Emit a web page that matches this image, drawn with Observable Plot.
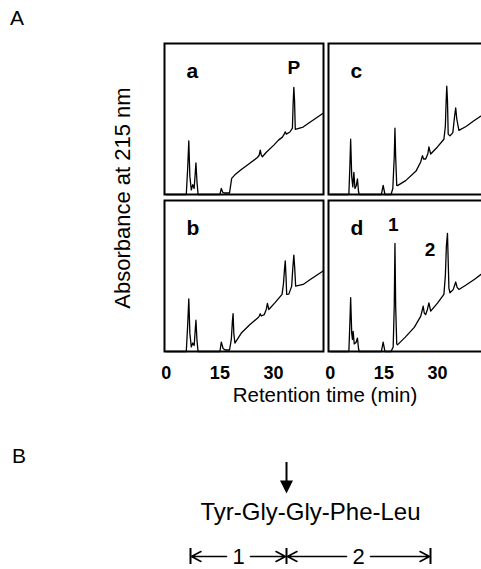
<!DOCTYPE html>
<html>
<head>
<meta charset="utf-8">
<script src="https://cdn.jsdelivr.net/npm/d3@7"></script>
<script src="https://cdn.jsdelivr.net/npm/@observablehq/plot@0.6"></script>
<style>
  html, body { margin: 0; padding: 0; background: #fff; overflow: hidden; }
  #fig { position: relative; width: 481px; height: 569px; overflow: hidden; background: #fff; }
  #fig svg { position: absolute; left: 0; overflow: visible; max-width: none !important; height: auto; }
  #fig [aria-label="x-axis tick label"] text { font-weight: bold; }
</style>
</head>
<body>
<div id="fig"></div>
<script>
// ---------------- data ----------------
const sectionLabels = ["A", "B"];
const xTitle = "Retention time (min)";
const yTitle = "Absorbance at 215 nm";
const xTicks = [0, 15, 30];

const panelNames = ["a", "c", "b", "d"];
const panelCol = { a: 0, b: 0, c: 1, d: 1 };
const panelRow = { a: 0, c: 0, b: 1, d: 1 };

// [retention time (min), absorbance (relative, 0-100 of panel height)]
const traceA = [[0,0],[5.6,0],[6.0,18],[6.3,35.5],[6.6,12],[7.0,3],[7.4,6.5],[7.8,4],[8.1,14],[8.3,21],[8.6,8],[8.9,0],
  [15.0,0],[15.4,4],[15.8,1.5],[16.2,1],[17.7,1],[18.3,10.7],[19.2,13],[21,16.5],[23,20],[25.5,24.5],[26.0,26],[26.3,29.4],
  [26.6,26],[26.9,25],[28,28],[30.1,32.7],[31.4,36],[32.5,38],[33.0,40],[33.3,41.5],[33.6,40],[34.6,41.4],[35.3,44],
  [35.5,60],[35.7,71],[35.9,62],[36.1,43.2],[38.3,44.7],[40,47.5],[44,54]];
const traceB = [[0,0],[5.6,0],[6.0,18],[6.3,34.9],[6.6,12],[7.0,3],[7.4,5.6],[7.8,4],[8.1,14],[8.3,20.7],[8.6,7],[8.9,0],
  [15.0,0],[15.4,6.2],[15.9,2],[16.5,1],[17.7,1],[18.2,8],[18.5,20],[18.7,25.1],[18.9,12],[19.2,5.6],[21,12.2],[23.5,18],
  [25.5,22],[26.0,23.3],[26.3,25],[26.6,23.5],[27.4,24.4],[28.0,28],[28.3,31.8],[28.7,27.8],[30.5,32.5],[32.4,37.8],
  [32.8,45],[33.1,55],[33.3,60],[33.5,50],[33.7,37.8],[34.3,38],[35.1,43.3],[35.4,55],[35.7,63.8],[35.95,55],[36.2,43.3],
  [38.3,44.4],[40.5,48],[44,53.5]];
const traceC = [[0,0],[5.2,0],[5.5,20],[5.7,36.6],[6.0,12],[6.3,5],[6.6,14.7],[6.9,4],[7.3,6],[7.6,10.3],[7.9,2],[8.1,0],
  [14.3,0],[14.8,6],[15.3,0],[17.0,0],[17.5,4],[17.9,25],[18.1,43.9],[18.3,25],[18.6,6],[18.8,5.9],[21.1,9.2],[24,15.5],
  [25.3,21.5],[25.8,25.7],[26.1,23.5],[26.7,23.5],[27.3,27],[27.6,31.6],[28.1,26.8],[30,31.5],[31.8,36.6],[32.2,45],
  [32.4,60],[32.6,71.7],[32.8,62],[33.0,40],[33.5,38.8],[34.3,41],[34.8,52],[35.1,57.4],[35.4,50],[36.0,42.5],[38,45],
  [40,48.5],[44,55]];
const traceD = [[0,0],[5.2,0],[5.5,20],[5.7,35.6],[6.0,12],[6.2,8],[6.4,13.3],[6.7,5],[7.2,6],[7.6,8.9],[7.9,2],[8.1,0],
  [14.3,0],[14.8,6.2],[15.3,0],[17.0,0],[17.6,3],[17.9,30],[18.1,71.6],[18.3,30],[18.6,5],[18.8,4.4],[21,9.5],[23.5,16],
  [25.3,23.3],[25.7,27],[26.0,30],[26.3,25.5],[26.7,24.4],[27.2,28],[27.6,32.2],[28.1,26.7],[30,32],[31.8,37.8],[32.2,50],
  [32.5,70],[32.8,78.2],[33.0,60],[33.2,42],[33.5,38.9],[34.4,41],[35.1,46],[35.5,42.5],[36,41.1],[38,44],[40.5,48],[44,54.5]];

const peakLabels = [
  { panel: "a", label: "P", t: 35.7, A: 84 },
  { panel: "d", label: "1", t: 17.6, A: 84 },
  { panel: "d", label: "2", t: 27.9, A: 67.5 }
];

const residues = ["Tyr", "Gly", "Gly", "Phe", "Leu"];
const cleavageAfter = 2; // cut between residue 2 and 3
const fragments = [
  { label: "1", from: 0, to: 2 },
  { label: "2", from: 2, to: 5 }
];

// ---------------- build ----------------
const FONT = '"Liberation Sans", Arial, Helvetica, sans-serif';
const traceByPanel = { a: traceA, b: traceB, c: traceC, d: traceD };
const rows = panelNames.flatMap(p => traceByPanel[p].map(([t, A]) => ({ panel: p, col: panelCol[p], row: panelRow[p], t, A })));
const letterRows = panelNames.map(p => ({ panel: p, col: panelCol[p], row: panelRow[p] }));
const peakRows = peakLabels.map(d => ({ ...d, col: panelCol[d.panel], row: panelRow[d.panel] }));

const fig = document.getElementById("fig");

const chart = Plot.plot({
  width: 490, height: 420,
  marginLeft: 163, marginRight: 2, marginTop: 42, marginBottom: 69,
  style: { fontFamily: FONT, fontSize: "18px", color: "#000", background: "transparent" },
  x: { domain: [-0.5, 44], ticks: xTicks, tickSize: 0, tickPadding: 15, label: null, tickFormat: d => String(d) },
  y: { domain: [0, 100], axis: null },
  fx: { domain: [0, 1], axis: null, paddingInner: 0.03, paddingOuter: 0 },
  fy: { domain: [0, 1], axis: null, paddingInner: 0.04, paddingOuter: 0 },
  marks: [
    Plot.frame({ stroke: "#000", strokeWidth: 2 }),
    Plot.line(rows, { x: "t", y: "A", z: "panel", fx: "col", fy: "row", stroke: "#000", strokeWidth: 1.3, strokeLinejoin: "round" }),
    Plot.text(letterRows, { fx: "col", fy: "row", text: "panel", frameAnchor: "top-left", dx: 22, dy: 20,
      fontSize: 21, fontWeight: "bold", fill: "#000" }),
    Plot.text(peakRows, { fx: "col", fy: "row", x: "t", y: "A", text: "label", fontSize: 19, fontWeight: "bold", fill: "#000" })
  ]
});
chart.style.top = "0px";
chart.style.width = "490px";
chart.style.height = "420px";
fig.appendChild(chart);

// peptide panel (B)
const fragArrows = fragments.flatMap(f => {
  const mid = (f.from + f.to) / 2;
  return [{ x1: mid, x2: f.from }, { x1: mid, x2: f.to }];
});
const boundaries = Array.from(new Set(fragments.flatMap(f => [f.from, f.to])));
const downTriangle = {
  draw(context, size) {
    const r = Math.sqrt(size / Math.PI);
    const half = 1.35 * r;
    context.moveTo(0, 1.8 * r);
    context.lineTo(-half, -0.9 * r);
    context.lineTo(half, -0.9 * r);
    context.closePath();
  }
};

const pep = Plot.plot({
  width: 481, height: 149, margin: 0,
  style: { fontFamily: FONT, color: "#000", background: "transparent" },
  x: { domain: [0, residues.length], range: [190, 430], axis: null },
  y: { type: "identity", axis: null },
  marks: [
    Plot.ruleX([cleavageAfter], { x: d => d, y1: 42, y2: 62, stroke: "#000", strokeWidth: 2 }),
    Plot.dot([cleavageAfter], { x: d => d, y: () => 64.4, symbol: downTriangle, r: 4.8, fill: "#000", stroke: "none" }),
    Plot.text([residues.join("-")], { x: () => residues.length / 2, y: () => 92, text: d => d, fontSize: 24, fill: "#000" }),
    Plot.arrow(fragArrows, { x1: "x1", x2: "x2", y1: 136, y2: 136, insetStart: 12, insetEnd: 1,
      headLength: 10, headAngle: 55, stroke: "#000", strokeWidth: 1.6 }),
    Plot.ruleX(boundaries, { x: d => d, y1: 128, y2: 144, stroke: "#000", strokeWidth: 2 }),
    Plot.text(fragments, { x: d => (d.from + d.to) / 2, y: () => 136, text: "label", fontSize: 22, fill: "#000" })
  ]
});
pep.style.top = "420px";
fig.appendChild(pep);

// overlay texts: section letters and axis titles
const overlay = d3.create("svg")
  .attr("width", 481).attr("height", 569)
  .style("top", "0px").style("pointer-events", "none")
  .style("font-family", FONT);
overlay.append("text").attr("x", 10).attr("y", 25).attr("font-size", 21).attr("fill", "#000").text(sectionLabels[0]);
overlay.append("text").attr("x", 12).attr("y", 463).attr("font-size", 21).attr("fill", "#000").text(sectionLabels[1]);
overlay.append("text").attr("transform", "translate(130,198) rotate(-90)").attr("text-anchor", "middle")
  .attr("font-size", 22).attr("fill", "#000").text(yTitle);
overlay.append("text").attr("x", 325).attr("y", 402).attr("text-anchor", "middle")
  .attr("font-size", 20.5).attr("fill", "#000").text(xTitle);
fig.appendChild(overlay.node());
</script>
</body>
</html>
